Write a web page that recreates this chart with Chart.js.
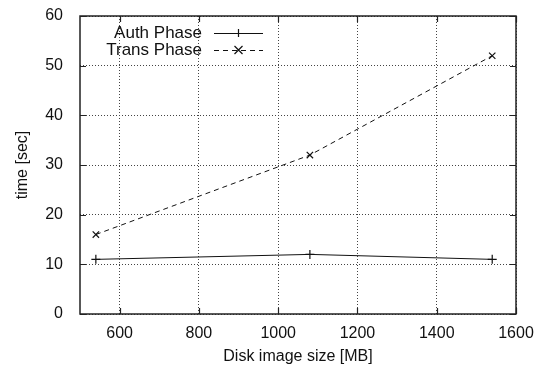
<!DOCTYPE html>
<html>
<head>
<meta charset="utf-8">
<script src="https://cdn.jsdelivr.net/npm/chart.js@4/dist/chart.umd.min.js"></script>
<style>
  html, body { margin: 0; padding: 0; background: #fff; }
  #wrap { width: 534px; height: 366px; }
</style>
</head>
<body>
<div id="wrap"><canvas id="myChart" width="534" height="366"></canvas></div>
<script>
// disk image sizes [MB]
const sizes = [540, 1080, 1540];
const authPhase = [11, 12, 11];
const transPhase = [16, 32, 52];
const seriesNames = ["Auth Phase", "Trans Phase"];
const xTicks = [600, 800, 1000, 1200, 1400, 1600];
const yTicks = [0, 10, 20, 30, 40, 50, 60];

const FONT = "'Liberation Sans', Arial, Helvetica, sans-serif";

// gnuplot style: frame, inward ticks on all four sides, legend inside top-left
const gnuplotDeco = {
	id: "gnuplotDeco",
	afterDraw(chart) {
		const ctx = chart.ctx;
		const a = chart.chartArea;
		const xs = chart.scales.x, ys = chart.scales.y;
		ctx.save();
		ctx.strokeStyle = "#222";
		ctx.setLineDash([]);
		ctx.lineWidth = 1.5;
		ctx.strokeRect(a.left, a.top, a.right - a.left, a.bottom - a.top);
		ctx.lineWidth = 1.2;
		const len = 6;
		ctx.beginPath();
		xTicks.forEach(v => {
			const px = Math.round(xs.getPixelForValue(v)) + 0.5;
			ctx.moveTo(px, a.bottom); ctx.lineTo(px, a.bottom - len);
			ctx.moveTo(px, a.top); ctx.lineTo(px, a.top + len);
		});
		yTicks.forEach(v => {
			const py = Math.round(ys.getPixelForValue(v)) + 0.5;
			ctx.moveTo(a.left, py); ctx.lineTo(a.left + len, py);
			ctx.moveTo(a.right, py); ctx.lineTo(a.right - len, py);
		});
		ctx.stroke();

		// legend
		ctx.font = "17px " + FONT;
		ctx.textAlign = "right";
		ctx.textBaseline = "middle";
		ctx.fillStyle = "#111";
		const textRight = 202, lineL = 214, lineR = 263;
		chart.data.datasets.forEach((ds, i) => {
			const y = 33 + i * 17;
			ctx.fillText(ds.label, textRight, y);
			ctx.strokeStyle = "#111";
			ctx.lineWidth = 1;
			ctx.setLineDash(ds.borderDash || []);
			ctx.beginPath();
			ctx.moveTo(lineL, y + 0.5); ctx.lineTo(lineR, y + 0.5);
			ctx.stroke();
			ctx.setLineDash([]);
			const cx = (lineL + lineR) / 2, r = 4;
			ctx.lineWidth = 1.2;
			ctx.beginPath();
			if (ds.pointStyle === "cross") {
				ctx.moveTo(cx - r, y + 0.5); ctx.lineTo(cx + r, y + 0.5);
				ctx.moveTo(cx, y - r); ctx.lineTo(cx, y + r);
			} else {
				ctx.moveTo(cx - r, y - r); ctx.lineTo(cx + r, y + r);
				ctx.moveTo(cx - r, y + r); ctx.lineTo(cx + r, y - r);
			}
			ctx.stroke();
		});
		ctx.restore();
	}
};

new Chart(document.getElementById("myChart"), {
	type: "line",
	data: {
		datasets: [
			{
				label: seriesNames[0],
				data: sizes.map((s, i) => ({ x: s, y: authPhase[i] })),
				borderColor: "#111",
				borderWidth: 1,
				pointStyle: "cross",
				pointRadius: 4.5,
				pointBorderColor: "#111",
				pointBorderWidth: 1.2,
				fill: false,
				tension: 0
			},
			{
				label: seriesNames[1],
				data: sizes.map((s, i) => ({ x: s, y: transPhase[i] })),
				borderColor: "#111",
				borderWidth: 1,
				borderDash: [5, 4],
				pointStyle: "crossRot",
				pointRadius: 4.5,
				pointBorderColor: "#111",
				pointBorderWidth: 1.2,
				fill: false,
				tension: 0
			}
		]
	},
	options: {
		responsive: false,
		animation: false,
		events: [],
		layout: { padding: { top: 16, right: 18, left: 0, bottom: 0 } },
		plugins: {
			legend: { display: false },
			tooltip: { enabled: false }
		},
		scales: {
			x: {
				type: "linear",
				min: 500,
				max: 1600,
				afterBuildTicks: s => { s.ticks = xTicks.map(v => ({ value: v })); },
				afterFit: s => { s.height = 52; s.paddingLeft = 0; s.paddingRight = 0; },
				ticks: {
					autoSkip: false,
					maxRotation: 0,
					color: "#111",
					font: { family: FONT, size: 16 },
					padding: 10,
					callback: v => String(v)
				},
				grid: { color: "#444", lineWidth: 1, drawTicks: false },
				border: { display: false, dash: [1, 2] },
				title: {
					display: true,
					text: "Disk image size [MB]",
					color: "#111",
					font: { family: FONT, size: 16 },
					padding: { top: 2, bottom: 0 }
				}
			},
			y: {
				type: "linear",
				min: 0,
				max: 60,
				afterBuildTicks: s => { s.ticks = yTicks.map(v => ({ value: v })); },
				afterFit: s => { s.width = 80; s.paddingTop = 0; s.paddingBottom = 0; },
				ticks: {
					autoSkip: false,
					color: "#111",
					font: { family: FONT, size: 16 },
					padding: 17,
					callback: v => String(v)
				},
				grid: { color: "#444", lineWidth: 1, drawTicks: false },
				border: { display: false, dash: [1, 2] },
				title: {
					display: true,
					text: "time [sec]",
					color: "#111",
					font: { family: FONT, size: 16 },
					padding: { top: 13, bottom: 4 }
				}
			}
		}
	},
	plugins: [gnuplotDeco]
});
</script>
</body>
</html>
